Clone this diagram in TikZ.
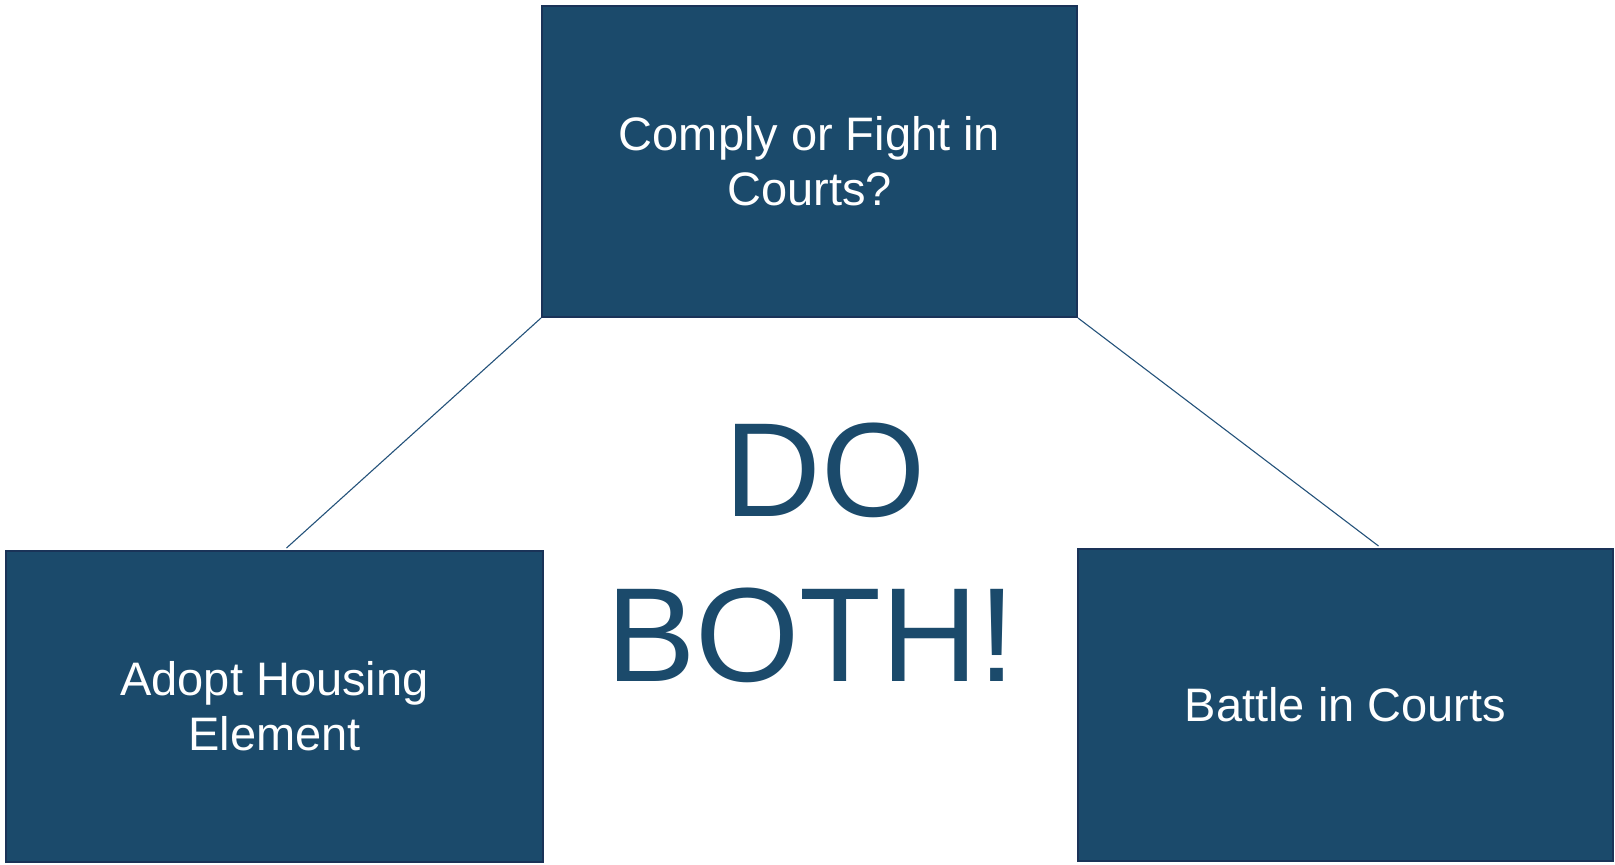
\documentclass[tikz,border=0pt]{standalone}
\usepackage{fontspec}
\setmainfont{Liberation Sans}
\definecolor{boxfill}{HTML}{1B4A6B}
\definecolor{boxedge}{HTML}{1A3358}
\definecolor{linkcol}{HTML}{24527A}
\begin{document}
\begin{tikzpicture}[x=1pt,y=-1pt,
  box/.style={rectangle, draw=boxedge, line width=2pt, fill=boxfill, text=white,
    inner sep=0pt, align=center,
    font=\fontsize{47}{55}\selectfont},
  link/.style={draw=linkcol, line width=1.1pt},
  bigtext/.style={text=boxfill, inner sep=0pt, anchor=base,
    font=\fontsize{134}{165}\selectfont}]
\useasboundingbox (0,0) rectangle (1615,865);
\node[box, minimum width=535pt, minimum height=311pt] (top) at (809.5,161.5)
  {Comply or Fight in\\Courts?};
\node[box, minimum width=537pt, minimum height=311pt] (left) at (274.5,706.5)
  {Adopt Housing\\Element};
\node[box, minimum width=535pt, minimum height=312pt] (right) at (1345.5,705)
  {Battle in Courts};
\draw[link] (top.south west) -- ([xshift=12pt,yshift=2pt]left.north);
\draw[link] (top.south east) -- ([xshift=33pt,yshift=2pt]right.north);
\node[bigtext] (do) at (825,516) {DO};
\node[bigtext] (both) at (811,681) {BOTH!};
\end{tikzpicture}
\end{document}
